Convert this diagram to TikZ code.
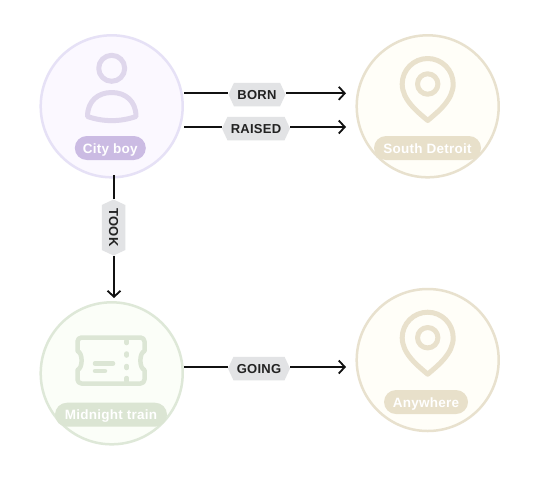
\documentclass[tikz,border=0pt]{standalone}
\usepackage{fontspec}
\setmainfont{Liberation Sans}
\usetikzlibrary{arrows.meta,shapes.symbols}
\definecolor{purpS}{HTML}{E6E1F6}\definecolor{purpF}{HTML}{FBF8FF}\definecolor{purpI}{HTML}{DFD7EC}\definecolor{purpP}{HTML}{CBBBE3}
\definecolor{sandS}{HTML}{E8E1CE}\definecolor{sandF}{HTML}{FFFEF8}\definecolor{sandI}{HTML}{E9E1CC}\definecolor{sandP}{HTML}{E8E0CA}
\definecolor{grnS}{HTML}{DEE8D8}\definecolor{grnF}{HTML}{FBFEF8}\definecolor{grnI}{HTML}{DCE6D5}\definecolor{grnP}{HTML}{DBE5D3}
\definecolor{hexF}{HTML}{E2E3E5}\definecolor{inkT}{HTML}{222222}\definecolor{inkL}{HTML}{111111}
\tikzset{
  circ/.style={circle,draw=#1S,fill=#1F,line width=2.5pt,minimum size=142pt,inner sep=0pt},
  pill/.style={fill=#1P,text=white,rounded corners=12pt,minimum height=24pt,inner sep=0pt,text height=11pt,text depth=1pt,font=\fontsize{13.5}{13.5}\selectfont\bfseries\addfontfeature{LetterSpace=2}},
  hexa/.style={shape=signal,signal to=east and west,signal pointer angle=130,fill=hexF,text=inkT,inner xsep=1pt,inner ysep=0pt,minimum height=23.5pt,text height=10.5pt,text depth=1.5pt,font=\fontsize{13}{13}\selectfont\bfseries\addfontfeature{LetterSpace=2}},
  conn/.style={draw=inkL,line width=1.8pt},
  tip/.style={conn,-{Straight Barb[length=6pt,width=13pt,line width=1.8pt]}},
  icon/.style={line width=5pt,line join=round,line cap=round,fill=none},
  pics/mappin/.style={code={
    \draw[icon,draw=sandI] (0,36.5) .. controls (-10,28) and (-25.5,16) .. (-25.5,0)
      arc[start angle=180,end angle=360,radius=25.5]
      .. controls (25.5,16) and (10,28) .. (0,36.5) -- cycle;
    \draw[icon,draw=sandI] (0,0) circle[radius=10.2];
  }}
}
\begin{document}
\begin{tikzpicture}[x=1pt,y=-1pt]
\useasboundingbox (0,0) rectangle (540,480);
\fill[white] (0,0) rectangle (540,480);
% circles
\node[circ=purp] (city) at (111.7,106.3) {};
\node[circ=sand] (south) at (427.7,106.3) {};
\node[circ=grn] (train) at (111.7,373.3) {};
\node[circ=sand] (any) at (427.7,360) {};
% person icon
\draw[icon,draw=purpI] (111.7,68.3) circle[radius=13];
\draw[icon,draw=purpI] (87.5,116.5) .. controls (87.5,101) and (98,92.5) .. (111.7,92.5)
  .. controls (125.4,92.5) and (136,101) .. (136,116.5)
  .. controls (120,122) and (103.5,122) .. (87.5,116.5) -- cycle;
% pin icons
\pic at (427.7,84) {mappin};
\pic at (427.7,337.7) {mappin};
% ticket icon
\draw[line width=4.5pt,draw=grnI,line join=round,fill=none]
  (81.5,337.5) -- (140.5,337.5) arc[start angle=-90,end angle=0,radius=4] -- (144.5,351)
  .. controls (139,353) and (139,368) .. (144.5,370) -- (144.5,379.5)
  arc[start angle=0,end angle=90,radius=4] -- (81.5,383.5)
  arc[start angle=90,end angle=180,radius=4] -- (77.5,370)
  .. controls (83,368) and (83,353) .. (77.5,351) -- (77.5,341.5)
  arc[start angle=180,end angle=270,radius=4] -- cycle;
\draw[line width=4.5pt,draw=grnI,line cap=round] (126.7,341) -- (126.7,343) (126.7,353.5) -- (126.7,355.5) (126.7,366) -- (126.7,368) (126.7,378) -- (126.7,381);
\draw[line width=4.5pt,draw=grnI,line cap=round] (95,363.5) -- (113,363.5) (95,371) -- (105,371);
% pills
\node[pill=purp,minimum width=71pt] (citylab) at (110.3,148) {City boy};
\node[pill=sand,minimum width=107pt] (southlab) at (427.5,148) {South Detroit};
\node[pill=grn,minimum width=112pt] (trainlab) at (111,414.7) {Midnight train};
\node[pill=sand,minimum width=84pt] (anylab) at (426,402) {Anywhere};
% edge labels
\node[hexa,minimum width=57pt] (born) at (257,94.5) {BORN};
\node[hexa,minimum width=68pt] (raised) at (256,128.5) {RAISED};
\node[hexa,minimum width=56pt,rotate=-90] (took) at (113.5,227.5) {TOOK};
\node[hexa,minimum width=62pt] (going) at (259,368.5) {GOING};
% connectors
\coordinate (bornS) at (184,93.3);\coordinate (bornT) at (346,93.3);
\coordinate (raisedS) at (184,127);\coordinate (raisedT) at (346,127);
\coordinate (tookS) at (114,175);\coordinate (tookT) at (114,298);
\coordinate (goingS) at (184,367);\coordinate (goingT) at (346,367);
\draw[conn] (bornS) -- (bornS -| born.west);
\draw[tip] (bornS -| born.east) -- (bornT);
\draw[conn] (raisedS) -- (raisedS -| raised.west);
\draw[tip] (raisedS -| raised.east) -- (raisedT);
\draw[conn] (tookS) -- (tookS |- took.west);
\draw[tip] (tookS |- took.east) -- (tookT);
\draw[conn] (goingS) -- (goingS -| going.west);
\draw[tip] (goingS -| going.east) -- (goingT);
\end{tikzpicture}
\end{document}
